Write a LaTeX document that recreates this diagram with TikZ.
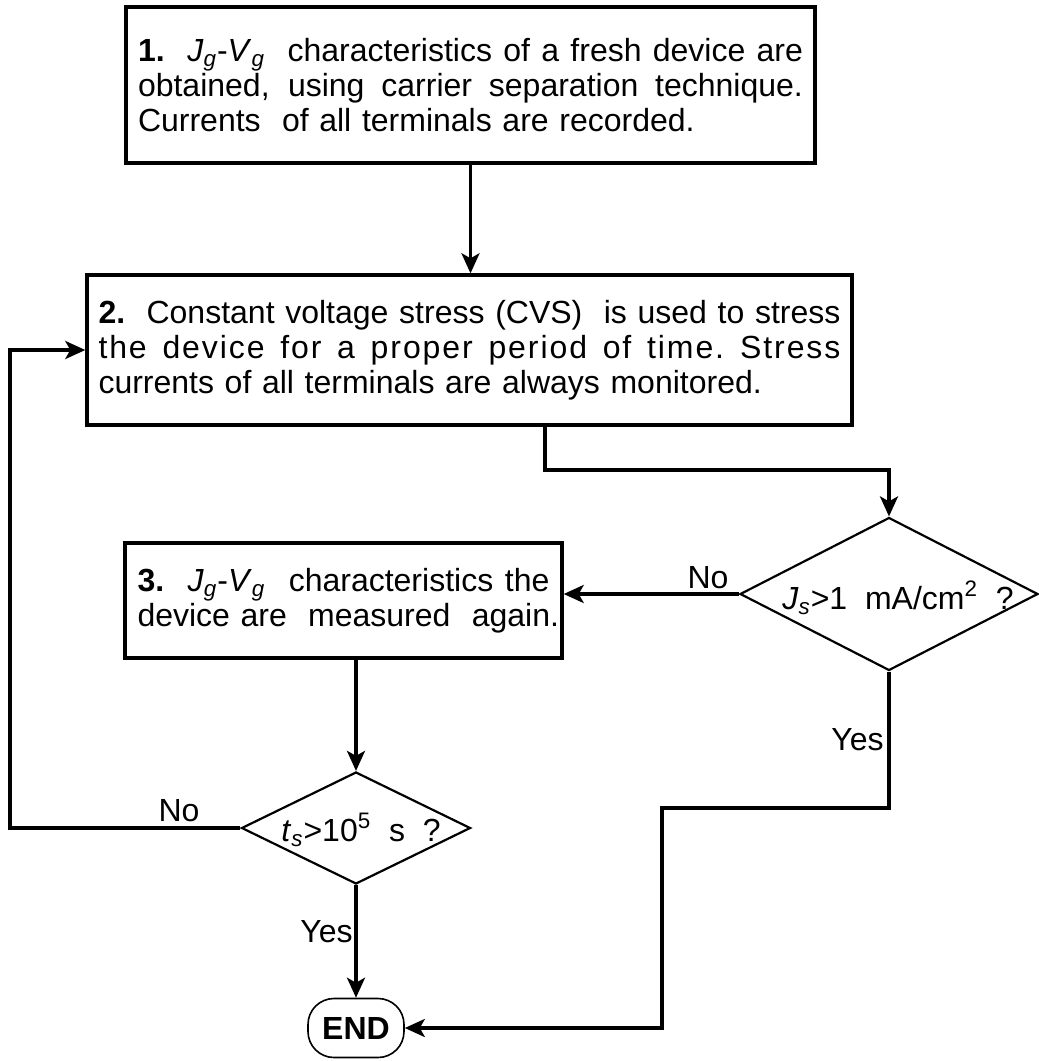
\documentclass[tikz,border=0pt]{standalone}
\usepackage{fontspec}
\setmainfont{Liberation Sans}
\usetikzlibrary{shapes.geometric, arrows.meta}
\newcommand{\msub}[1]{\textsubscript{\textit{#1}}}
\newcommand{\msup}[1]{\textsuperscript{#1}}
\newcommand{\jline}[1]{\makebox[\hsize][s]{\spaceskip=0.3333em plus 1em\relax #1}}
\begin{document}
\begin{tikzpicture}[x=0.5pt, y=-0.5pt,
  every node/.style={font=\fontsize{16pt}{17.5pt}\selectfont},
  box/.style={draw, line width=1.7pt, rectangle, inner ysep=0pt, align=left},
  dia/.style={draw, line width=1.1pt, diamond, inner sep=0pt},
  endbox/.style={draw, line width=0.8pt, rectangle, rounded corners=13pt, minimum width=48pt, minimum height=29.5pt, inner sep=0pt, font=\fontsize{16pt}{17.5pt}\selectfont\bfseries},
  conn/.style={line width=1.7pt},
  arr/.style={conn, -{Stealth[length=10pt, width=9pt, inset=2.5pt]}},
  lbl/.style={inner sep=0pt}
]
\fill[white] (0,0) rectangle (1039,1061);
\useasboundingbox (0,0) rectangle (1039,1061);

\node[box, text width=332.5pt, inner xsep=6pt, minimum height=78pt] (b1) at (470.5,85) {%
\jline{\textbf{1.}\ \ \textit{J}\msub{g}-\textit{V}\msub{g}\ \ characteristics of a fresh device are}\\
\jline{obtained, using carrier separation technique.}\\
Currents\ \ of all terminals are recorded.};

\node[box, text width=371pt, inner xsep=5.75pt, minimum height=75pt] (b2) at (469.5,350) {%
\jline{\textbf{2.}\ \ Constant voltage stress (CVS)\ \ is used to stress}\\
\jline{\addfontfeature{LetterSpace=6}the device for a proper period of time. Stress}\\
currents of all terminals are always monitored.};

\node[box, text width=206pt, inner xsep=6.25pt, minimum height=57.5pt] (b3) at (343.5,600.5) {%
\jline{\textbf{3.}\ \ \textit{J}\msub{g}-\textit{V}\msub{g}\ \ characteristics the}\\
\jline{device are\ \ measured\ \ again.}};

\node[dia, minimum width=149pt, minimum height=76.5pt] (d1) at (889,594) {};
\node[lbl] (d1t) at (898,598) {\textit{J}\msub{s}>1\ \ mA/cm\msup{2}\ \ ?};

\node[dia, minimum width=114.5pt, minimum height=56pt] (d2) at (356,828) {};
\node[lbl] (d2t) at (361,830) {\textit{t}\msub{s}>10\msup{5}\ \ s\ \ ?};

\node[endbox] (e) at (356,1028) {END};

\draw[arr] (b1.south) -- (b1.south |- b2.north);
\coordinate (k1) at (545,470);
\draw[arr] (b2.south -| k1) -- (k1) -| (d1.north);
\draw[arr] (d1.west) -- (d1.west -| b3.east);
\node[lbl] (no1) at (708,578) {No};
\draw[arr] (d2.north |- b3.south) -- (d2.north);
\coordinate (k2) at (10,0);
\draw[arr] (d2.west) -- (d2.west -| k2) |- (b2.west);
\node[lbl] (no2) at (179,811) {No};
\draw[arr] (d2.south) -- (e.north);
\node[lbl, anchor=east] (yes2) at (353,932) {Yes};
\coordinate (k3) at (662,808);
\draw[arr] (d1.south) |- (k3) |- (e.east);
\node[lbl, anchor=east] (yes1) at (884,740) {Yes};
\end{tikzpicture}
\end{document}
